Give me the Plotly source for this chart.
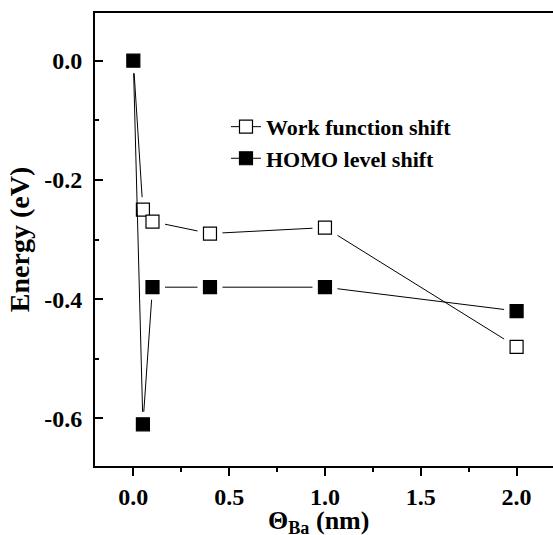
import plotly.graph_objects as go

# ---- data ----
thickness = [0.0, 0.05, 0.1, 0.4, 1.0, 2.0]          # Θ_Ba (nm)
wf_shift = [0.0, -0.25, -0.27, -0.29, -0.28, -0.48]   # Work function shift (eV)
homo_shift = [0.0, -0.61, -0.38, -0.38, -0.38, -0.42] # HOMO level shift (eV)
series_names = ["Work function shift", "HOMO level shift"]
x_ticks = [0.0, 0.5, 1.0, 1.5, 2.0]
y_ticks = [0.0, -0.2, -0.4, -0.6]
x_title = "<b>Θ<sub>Ba</sub> (nm)</b>"
y_title = "<b>Energy (eV)</b>"

FONT = "Liberation Serif"
MS = 13      # marker size
HALO = 25    # white gap around markers (Origin style)

fig = go.Figure()

def add_series(y, filled):
    # connecting line
    fig.add_trace(go.Scatter(x=thickness, y=y, mode="lines",
                             line=dict(color="black", width=1),
                             showlegend=False, hoverinfo="skip"))
    # white halo to make gaps around markers
    fig.add_trace(go.Scatter(x=thickness, y=y, mode="markers",
                             marker=dict(symbol="square", size=HALO, color="white",
                                         line=dict(width=0)),
                             showlegend=False, hoverinfo="skip"))
    # markers
    fig.add_trace(go.Scatter(x=thickness, y=y, mode="markers",
                             marker=dict(symbol="square", size=MS,
                                         color="black" if filled else "white",
                                         line=dict(color="black", width=1.2)),
                             showlegend=False))

add_series(wf_shift, False)
add_series(homo_shift, True)

# legend entries
for name, filled in zip(series_names, [False, True]):
    fig.add_trace(go.Scatter(x=[None], y=[None], mode="lines+markers",
                             name=f"<b>{name}</b>",
                             line=dict(color="black", width=1),
                             marker=dict(symbol="square", size=MS,
                                         color="black" if filled else "white",
                                         line=dict(color="black", width=1.2))))

fig.update_layout(
    width=553, height=535,
    margin=dict(l=95, r=0, t=13, b=69),
    paper_bgcolor="white", plot_bgcolor="white",
    font=dict(family=FONT, color="black", size=22),
    showlegend=True,
    legend=dict(x=0.286, y=0.795, xanchor="left", yanchor="top",
                bgcolor="rgba(0,0,0,0)", borderwidth=0,
                font=dict(family=FONT, size=22, color="black"),
                itemsizing="trace", tracegroupgap=0),
    xaxis=dict(range=[-0.2, 2.19], tickvals=x_ticks, automargin=False,
               ticktext=[f"<b>{v:.1f}</b>" for v in x_ticks],
               ticks="outside", ticklen=8, tickwidth=2, tickcolor="black",
               minor=dict(dtick=0.25, tick0=0, ticks="outside", ticklen=4,
                          tickwidth=2, tickcolor="black"),
               showline=True, linewidth=2, linecolor="black", mirror=True,
               showgrid=False, zeroline=False,
               tickfont=dict(family=FONT, size=24)),
    yaxis=dict(range=[-0.68, 0.08], tickvals=y_ticks, automargin=False,
               ticktext=[f"<b>{v:.1f}</b>" for v in y_ticks],
               ticks="inside", ticklen=8, tickwidth=2, tickcolor="black",
               minor=dict(dtick=0.1, tick0=0, ticks="inside", ticklen=4,
                          tickwidth=2, tickcolor="black"),
               showline=True, linewidth=2, linecolor="black", mirror=False,
               showgrid=False, zeroline=False,
               ticklabelstandoff=6,
               tickfont=dict(family=FONT, size=24),
               title=dict(text=y_title,
                          font=dict(family=FONT, size=28), standoff=6)),
)

fig.add_annotation(text=x_title, xref="x domain", yref="y domain",
                   x=0.487, y=-0.084, xanchor="center", yanchor="top",
                   showarrow=False, font=dict(family=FONT, size=26, color="black"))

fig.write_html("out.html")
